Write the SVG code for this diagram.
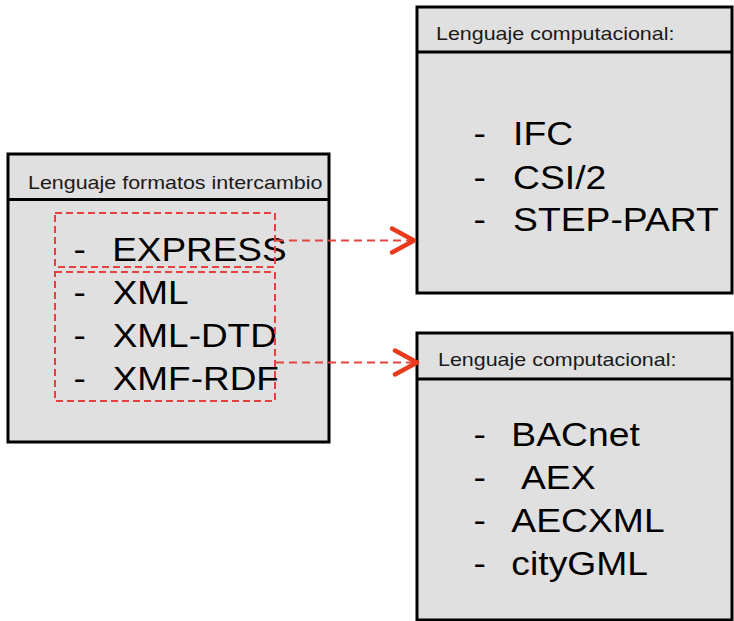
<svg xmlns="http://www.w3.org/2000/svg" width="734" height="621" viewBox="0 0 734 621">
<style>
.box{fill:#e0e0e0;stroke:#000;stroke-width:3}
.div{stroke:#000;stroke-width:3}
.hdr{font-family:"Liberation Sans",Arial,sans-serif;font-size:18.5px;fill:#1a1a1a}
.item{font-family:"Liberation Sans",Arial,sans-serif;font-size:33px;fill:#000}
.sel{fill:none;stroke:#e8403e;stroke-width:2;stroke-dasharray:7 4}
.conn{fill:none;stroke:#e4463e;stroke-width:2.2;stroke-dasharray:8 5}
</style>
<defs>
<marker id="arr" markerUnits="userSpaceOnUse" markerWidth="30" markerHeight="30" viewBox="0 0 30 30" refX="25" refY="15" orient="auto">
<path d="M3,3 L25,15 L3,27" fill="none" stroke="#e83a1c" stroke-width="4.5" stroke-linecap="round" stroke-linejoin="round"/>
</marker>
</defs>
<rect width="734" height="621" fill="#fff"/>

<g id="formatos">
<rect class="box" x="8" y="154" width="321" height="288"/>
<line class="div" x1="8" y1="199.5" x2="329" y2="199.5"/>
<text class="hdr" transform="translate(28,188.5) scale(1.16,1)">Lenguaje formatos intercambio</text>
<text class="item" transform="translate(73.5,261) scale(1.12,1)"><tspan x="0">-</tspan><tspan x="34.5">EXPRESS</tspan></text>
<text class="item" transform="translate(73.5,304) scale(1.12,1)"><tspan x="0">-</tspan><tspan x="35">XML</tspan></text>
<text class="item" transform="translate(73.5,347) scale(1.12,1)"><tspan x="0">-</tspan><tspan x="35">XML-DTD</tspan></text>
<text class="item" transform="translate(73.5,390) scale(1.12,1)"><tspan x="0">-</tspan><tspan x="35">XMF-RDF</tspan></text>
<rect class="sel" x="55" y="213" width="220" height="54"/>
<rect class="sel" x="55" y="272" width="220" height="129"/>
</g>

<g id="computacional1">
<rect class="box" x="417" y="7" width="315" height="286"/>
<line class="div" x1="417" y1="52" x2="732" y2="52"/>
<text class="hdr" transform="translate(436,40) scale(1.16,1)">Lenguaje computacional:</text>
<text class="item" transform="translate(473.5,145) scale(1.13,1)"><tspan x="0">-</tspan><tspan x="35">IFC</tspan></text>
<text class="item" transform="translate(473.5,189) scale(1.13,1)"><tspan x="0">-</tspan><tspan x="35">CSI/2</tspan></text>
<text class="item" transform="translate(473.5,231) scale(1.13,1)"><tspan x="0">-</tspan><tspan x="35">STEP-PART</tspan></text>
</g>

<g id="computacional2">
<rect class="box" x="417" y="333" width="315" height="287"/>
<line class="div" x1="417" y1="379" x2="732" y2="379"/>
<text class="hdr" transform="translate(438,366) scale(1.16,1)">Lenguaje computacional:</text>
<text class="item" transform="translate(473.5,446) scale(1.13,1)"><tspan x="0">-</tspan><tspan x="33.5">BACnet</tspan></text>
<text class="item" transform="translate(473.5,489) scale(1.13,1)"><tspan x="0">-</tspan><tspan x="42">AEX</tspan></text>
<text class="item" transform="translate(473.5,532) scale(1.13,1)"><tspan x="0">-</tspan><tspan x="33.5">AECXML</tspan></text>
<text class="item" transform="translate(473.5,575) scale(1.13,1)"><tspan x="0">-</tspan><tspan x="33.5">cityGML</tspan></text>
</g>

<g id="connectors">
<line class="conn" x1="276" y1="240.5" x2="414" y2="240.5" marker-end="url(#arr)"/>
<line class="conn" x1="276" y1="362.5" x2="417" y2="362.5" marker-end="url(#arr)"/>
</g>
</svg>
